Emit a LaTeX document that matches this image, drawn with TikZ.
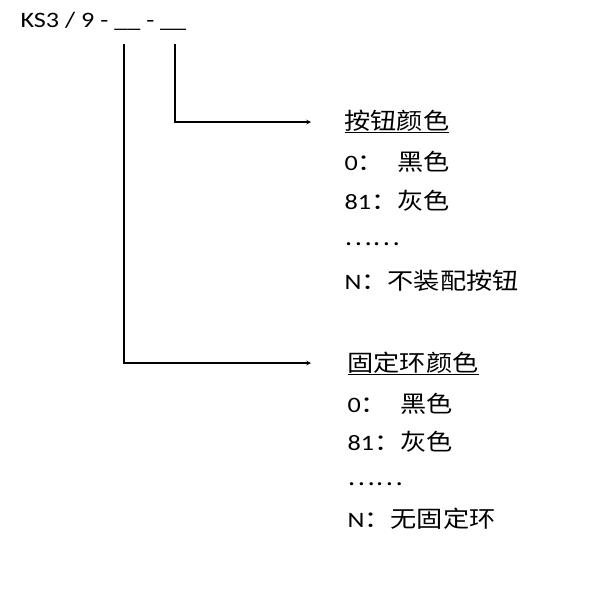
\documentclass[tikz,border=0pt]{standalone}
\usepackage{fontspec}
\setmainfont{Carlito}[FakeStretch=1.19,Numbers=Lining]
\newfontfamily\cjk{Noto Sans CJK SC}[FakeStretch=1.14,Scale=1.045]
\usetikzlibrary{arrows}
\newcommand{\headRule}[1]{\setbox0\hbox{#1}\rlap{\rule[-3.5pt]{\wd0}{1pt}}\box0}
\newcommand{\rowFont}{\fontsize{22}{26}\selectfont}

\begin{document}
\begin{tikzpicture}[x=1pt,y=-1pt,line width=1.1pt,>=stealth,
  txt/.style={anchor=base west,inner sep=0pt,font=\rowFont}]
\useasboundingbox (0,0) rectangle (593,593);
\node[txt] (code) at (20,28) {KS3 / 9 - \_\_ - \_\_};
\coordinate (ringPos) at (124,44);
\coordinate (btnPos) at (175,44);
% button colour
\node[txt] (btn) at (344,130) {\headRule{\cjk 按钮颜色}};
\node[txt] (btnA) at (344,171) {0{\cjk ：}\phantom{0}{\cjk 黑色}};
\node[txt] (btnB) at (344,210) {81{\cjk ：灰色}};
\node[txt] (btnC) at (344,246) {{\cjk ……}};
\node[txt] (btnD) at (344,289) {N{\cjk ：不装配按钮}};
% ring colour
\node[txt] (ring) at (347,371) {\headRule{\cjk 固定环颜色}};
\node[txt] (ringA) at (347,412) {0{\cjk ：}\phantom{0}{\cjk 黑色}};
\node[txt] (ringB) at (347,450) {81{\cjk ：灰色}};
\node[txt] (ringC) at (347,485) {{\cjk ……}};
\node[txt] (ringD) at (347,527) {N{\cjk ：无固定环}};
\draw[->] (btnPos) |- ([xshift=-33pt]btn.west);
\draw[->] (ringPos) |- ([xshift=-36pt]ring.west);
\end{tikzpicture}
\end{document}
